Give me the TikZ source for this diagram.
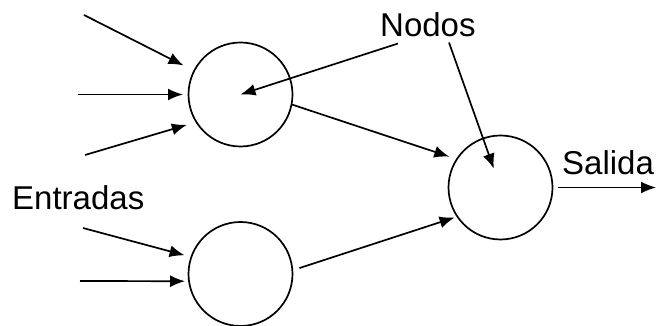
\documentclass[tikz,border=0pt]{standalone}
\usepackage{fontspec}
\setmainfont{Liberation Sans}
\usetikzlibrary{arrows.meta}

\tikzset{
	nodo/.style={draw, circle, minimum size=104pt, inner sep=0pt, outer sep=0pt, line width=1.7pt},
	flecha/.style={line width=1.7pt, -{Latex[length=15pt,width=12pt]}},
	texto/.style={font=\fontsize{33}{39}\selectfont, inner sep=0pt}
}

\begin{document}
\begin{tikzpicture} [x=1pt, y=1pt]
					\useasboundingbox (0, 0) rectangle (656, 326);

					% nodos
					\node [nodo] (n1) at (240.5, 231.5) {};
					\node [nodo] (n2) at (240.5, 52) {};
					\node [nodo] (n3) at (500.5, 138.5) {};

					% entradas
					\coordinate (e1) at (84, 311);
					\coordinate (e2) at (78, 231.5);
					\coordinate (e3) at (85, 171);
					\coordinate (e4) at (83, 98);
					\coordinate (e5) at (80, 45);
					\coordinate (sal) at (656, 138.5);

					\draw [flecha, shorten >=12pt] (e1)--(n1.153);
					\draw [flecha, shorten >=5.5pt] (e2)--(n1.180);
					\draw [flecha, shorten >=10pt] (e3)--(n1.212);
					\draw [flecha, shorten >=7pt] (e4)--(n2.161);
					\draw [flecha, shorten >=4pt] (e5)--(n2.188);

					\draw [flecha, shorten >=8pt] (n1.349)--(n3.147);
					\draw [flecha, shorten <=7.5pt, shorten >=3pt] (n2.4)--(n3.214);
					\draw [flecha, shorten <=5pt] (n3.east)--(sal);

					% textos
					\node [texto, anchor=base west] (nodos) at (380, 289) {Nodos};
					\node [texto, anchor=base west] (entradas) at (12, 116) {Entradas};
					\node [texto, anchor=base west] (salida) at (562, 151) {Salida};

					\draw [flecha] ([xshift=18pt, yshift=-6pt]nodos.south west)--(n1.center);
					\draw [flecha, shorten >=20pt] ([xshift=69pt, yshift=-5pt]nodos.south west)--(n3.center);
				\end{tikzpicture}
\end{document}
